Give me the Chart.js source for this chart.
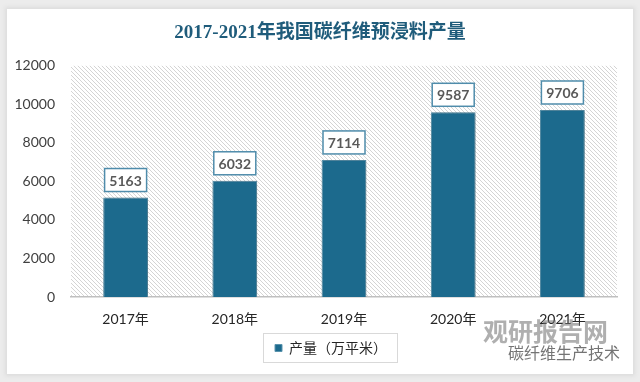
<!DOCTYPE html>
<html><head><meta charset="utf-8">
<script src="https://cdn.jsdelivr.net/npm/chart.js@4.4.0/dist/chart.umd.min.js"></script>
<style>
html,body{margin:0;padding:0;width:640px;height:382px;overflow:hidden;background:#ececec;}
#panel{position:absolute;left:7px;top:9px;width:626px;height:365px;background:#fff;box-shadow:0 0 4px 2px #dcdcdc;}
#wrap{position:absolute;left:0;top:0;width:640px;height:382px;}
.wm1{position:absolute;left:483px;top:312px;font:bold 25px "Noto Sans CJK SC";color:rgba(110,110,110,0.55);}
.wm2{position:absolute;left:508px;top:340px;font:16px "Noto Sans CJK SC";color:rgba(70,70,70,0.75);}
</style></head>
<body>
<div id="panel"></div>
<div id="wrap"><canvas id="c" width="640" height="382"></canvas></div>
<div class="wm1">观研报告网</div>
<div class="wm2">碳纤维生产技术</div>
<script>
const categories = ["2017年","2018年","2019年","2020年","2021年"];
const production = [5163, 6032, 7114, 9587, 9706];
const yTicks = [0, 2000, 4000, 6000, 8000, 10000, 12000];
const seriesName = "产量（万平米）";
const titleText = "2017-2021年我国碳纤维预浸料产量";

function makePattern(){
  const p = document.createElement('canvas');
  p.width = 4; p.height = 4;
  const g = p.getContext('2d');
  g.strokeStyle = '#d4d4d4'; g.lineWidth = 1;
  g.beginPath();
  g.moveTo(-1,-1); g.lineTo(5,5);
  g.moveTo(-3,1); g.lineTo(1,5);
  g.moveTo(1,-3); g.lineTo(5,1);
  g.stroke();
  return g.createPattern(p,'repeat');
}

const LEGEND_SHIFT = 11;
const bgPlugin = {
  id:'bg',
  afterLayout(chart){
    const lg = chart.legend;
    if(lg){
      lg.left += LEGEND_SHIFT; lg.right += LEGEND_SHIFT;
      (lg.legendHitBoxes||[]).forEach(h=>{h.left += LEGEND_SHIFT;});
    }
  },
  beforeDraw(chart){
    const {ctx, chartArea:a} = chart;
    ctx.save();
    ctx.fillStyle = makePattern();
    ctx.fillRect(a.left, a.top, a.right-a.left, a.bottom-a.top);
    ctx.restore();
  }
};
const shadowPlugin = {
  id:'shadow',
  beforeDatasetsDraw(chart){
    const ctx = chart.ctx; ctx.save();
    ctx.shadowColor='rgba(0,0,0,0.28)'; ctx.shadowBlur=4; ctx.shadowOffsetX=1; ctx.shadowOffsetY=0;
  },
  afterDatasetsDraw(chart){ chart.ctx.restore(); }
};
const labelPlugin = {
  id:'labels',
  afterDraw(chart){
    const ctx = chart.ctx;
    const meta = chart.getDatasetMeta(0);
    ctx.save();
    meta.data.forEach((bar,i)=>{
      const w=42,h=23;
      const x=bar.x-w/2, y=bar.y-6-h;
      ctx.fillStyle='#fff';
      ctx.fillRect(x,y,w,h);
      ctx.strokeStyle='#4f8cab'; ctx.lineWidth=1.5;
      ctx.strokeRect(x,y,w,h);
      ctx.fillStyle='#595959';
      ctx.font='bold 14px Lato, "Liberation Sans"';
      ctx.textAlign='center'; ctx.textBaseline='middle';
      ctx.fillText(String(production[i]), bar.x, y+h/2+1);
    });
    const lg = chart.legend;
    if(lg && lg.legendHitBoxes && lg.legendHitBoxes.length){
      const hb = lg.legendHitBoxes[0];
      ctx.strokeStyle='#d9d9d9'; ctx.lineWidth=1;
      ctx.strokeRect(Math.round(hb.left)-11.5, Math.round(hb.top)-7.5, hb.width+22, hb.height+15);
    }
    ctx.restore();
  }
};

new Chart(document.getElementById('c'), {
  type:'bar',
  data:{
    labels:categories,
    datasets:[{
      label:seriesName,
      data:production,
      backgroundColor:'#1c6a8d',
      borderColor:'#5a93ad',
      borderWidth:1,
      barPercentage:1,
      categoryPercentage:0.41
    }]
  },
  options:{
    responsive:false,
    animation:false,
    devicePixelRatio:1,
    layout:{padding:{left:0,right:0,top:0,bottom:17}},
    plugins:{
      title:{display:true,text:titleText,color:'#1f5c7b',
        font:{size:19,weight:'bold',family:'"Liberation Serif","Noto Sans CJK SC"'},
        padding:{top:22,bottom:21}},
      legend:{display:true,position:'bottom',
        labels:{boxWidth:7,boxHeight:7,padding:10,color:'#262626',
          font:{size:14,family:'"Noto Sans CJK SC"'}}},
      tooltip:{enabled:false}
    },
    scales:{
      x:{
        grid:{display:false,drawTicks:false},
        border:{display:true,color:'#bfbfbf',width:1.5},
        ticks:{color:'#262626',padding:14,font:{size:14,family:'Lato,"Noto Sans CJK SC"'}},
        afterFit(s){s.height=34;}
      },
      y:{
        min:0,max:12000,
        grid:{display:false,drawTicks:false},
        border:{display:false},
        afterBuildTicks(s){s.ticks=yTicks.map(v=>({value:v}));},
        ticks:{color:'#404040',padding:16,font:{size:14,family:'Lato,"Liberation Sans"'},
          callback:(v)=>String(v)},
        afterFit(s){s.width=71;}
      },
      yRight:{
        position:'right',min:0,max:12000,
        grid:{display:false,drawTicks:false},
        border:{display:false},
        ticks:{display:false},
        afterFit(s){s.width=23;}
      }
    }
  },
  plugins:[bgPlugin,shadowPlugin,labelPlugin]
});
</script>
</body></html>
